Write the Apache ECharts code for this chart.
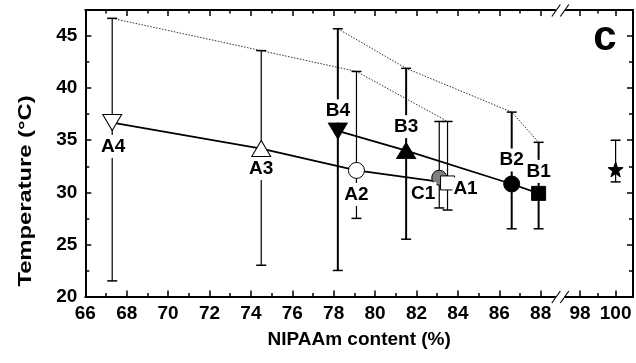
<!DOCTYPE html>
<html><head><meta charset="utf-8">
<script src="https://cdn.jsdelivr.net/npm/echarts@6/dist/echarts.min.js"></script>
<style>html,body{margin:0;padding:0;background:#fff}#c{width:636px;height:363px}</style>
</head><body><div id="c"></div>
<script>
// ---- data ----
const samples  = ['A4', 'A3', 'A2', 'C1', 'A1', 'B4', 'B3', 'B2', 'B1', 'Ref'];
const nipaam   = [67.3, 74.5, 79.1, 83.1, 83.5, 78.2, 81.5, 86.6, 87.9, 100];
const lcst     = [36.7, 34.2, 32.1, 31.4, 30.9, 35.9, 34.0, 30.8, 29.9, 32.2];
const lcstLow  = [21.5, 23.0, 27.5, 28.5, 28.3, 22.5, 25.5, 26.5, 26.5, 31.0];
const lcstHigh = [46.7, 43.6, 41.6, 36.8, 36.8, 45.7, 41.9, 37.7, 34.8, 35.0];
const seriesA = ['A4', 'A3', 'A2', 'A1'];
const seriesB = ['B4', 'B3', 'B2', 'B1'];
const xMajorTicks = [66, 68, 70, 72, 74, 76, 78, 80, 82, 84, 86, 88, 98, 100];
const xMinorTicks = [67, 69, 71, 73, 75, 77, 79, 81, 83, 85, 87, 99];
const yMajorTicks = [20, 25, 30, 35, 40, 45];
const yMinorTicks = [22.5, 27.5, 32.5, 37.5, 42.5];
const xTitle = 'NIPAAm content (%)';
const yTitle = 'Temperature (°C)';
const panelLabel = 'c';

// ---- broken x axis (88 | 98) ----
const BREAK_LO = 88, BREAK_HI = 98, BREAK_POS = 89.9, BREAK_K = 0.86;
const tx = v => v <= 90 ? v : BREAK_POS + (v - BREAK_HI) * BREAK_K;
const itx = v => v <= 89.5 ? v : BREAK_HI + (v - BREAK_POS) / BREAK_K;
const X_MIN = 66, X_MAX = 92.46, Y_MIN = 20, Y_MAX = 47.5;

// ---- styles ----
const FONT = '"Liberation Sans", Arial, Helvetica, sans-serif';
const star = 'path://M0,-10L2.35,-3.24L9.51,-3.09L3.8,1.24L5.88,8.09L0,4L-5.88,8.09L-3.8,1.24L-9.51,-3.09L-2.35,-3.24Z';
const markerStyle = {
  A4: {symbol: 'triangle', rotate: 180, size: [19, 16], fill: '#fff'},
  A3: {symbol: 'triangle', rotate: 0, size: [19, 16], fill: '#fff'},
  A2: {symbol: 'circle', rotate: 0, size: 16, fill: '#fff'},
  C1: {symbol: 'circle', rotate: 0, size: 15, fill: '#7f7f7f'},
  A1: {symbol: 'rect', rotate: 0, size: 14, fill: '#fff'},
  B4: {symbol: 'triangle', rotate: 180, size: [19, 16], fill: '#000'},
  B3: {symbol: 'triangle', rotate: 0, size: [19, 16], fill: '#000'},
  B2: {symbol: 'circle', rotate: 0, size: 16, fill: '#000'},
  B1: {symbol: 'rect', rotate: 0, size: 14, fill: '#000'},
  Ref: {symbol: star, rotate: 0, size: 15, fill: '#000'}
};
const labelOffset = {
  A4: [1, 24], A3: [0, 20], A2: [0, 24], C1: [-16, 16], A1: [18, 6],
  B4: [0, -20], B3: [0, -24], B2: [0, -24], B1: [0, -22]
};
const barWidth = name => name[0] === 'B' ? 2 : 1.2;

const idx = n => samples.indexOf(n);
const pt = n => [tx(nipaam[idx(n)]), lcst[idx(n)]];
const ptTop = n => [tx(nipaam[idx(n)]), lcstHigh[idx(n)]];

const chart = echarts.init(document.getElementById('c'), null, {renderer: 'canvas'});

const axisLineStyle = {color: '#000', width: 2};
function xAxisDef(pos, vals, len, withLabel, withLine) {
  return {
    type: 'value', position: pos, min: X_MIN, max: X_MAX,
    axisLine: {show: withLine, onZero: false, lineStyle: axisLineStyle},
    axisTick: {show: true, inside: true, length: len, customValues: vals.map(tx), lineStyle: {color: '#000', width: 1.5}},
    axisLabel: withLabel ? {show: true, customValues: vals.map(tx), margin: 8, color: '#000',
      fontFamily: FONT, fontWeight: 'bold', fontSize: 19, formatter: v => String(Math.round(itx(v)))} : {show: false},
    splitLine: {show: false}
  };
}
function yAxisDef(pos, vals, len, withLabel, withLine) {
  return {
    type: 'value', position: pos, min: Y_MIN, max: Y_MAX,
    axisLine: {show: withLine, onZero: false, lineStyle: axisLineStyle},
    axisTick: {show: true, inside: true, length: len, customValues: vals, lineStyle: {color: '#000', width: 1.5}},
    axisLabel: withLabel ? {show: true, customValues: vals, margin: 8, color: '#000',
      fontFamily: FONT, fontWeight: 'bold', fontSize: 19} : {show: false},
    splitLine: {show: false}
  };
}

const scatterData = samples.map((n, i) => {
  const s = markerStyle[n];
  const item = {
    name: n, value: [tx(nipaam[i]), lcst[i]],
    symbol: s.symbol, symbolSize: s.size, symbolRotate: s.rotate,
    itemStyle: {color: s.fill, borderColor: '#000', borderWidth: 1, opacity: 1}
  };
  if (labelOffset[n]) {
    item.label = {show: true, position: 'inside', offset: labelOffset[n], formatter: n,
      color: '#000', fontFamily: FONT, fontWeight: 'bold', fontSize: 19,
      backgroundColor: '#fff', padding: [2, 1], lineHeight: 19};
  }
  return item;
});

const errData = samples.map((n, i) => [tx(nipaam[i]), lcstLow[i], lcstHigh[i]]);

chart.setOption({
  animation: false,
  backgroundColor: '#fff',
  grid: {left: 85.3, right: 3, top: 10, bottom: 66.5, containLabel: false},
  xAxis: [
    Object.assign(xAxisDef('bottom', xMajorTicks, 6, true, true), {name: xTitle, nameLocation: 'middle', nameGap: 34,
      nameTextStyle: {color: '#000', fontFamily: FONT, fontWeight: 'bold', fontSize: 19}}),
    xAxisDef('bottom', xMinorTicks, 3.5, false, false),
    xAxisDef('top', xMajorTicks, 6, false, true),
    xAxisDef('top', xMinorTicks, 3.5, false, false)
  ],
  yAxis: [
    yAxisDef('left', yMajorTicks, 6, true, true),
    yAxisDef('left', yMinorTicks, 4, false, false),
    yAxisDef('right', yMajorTicks, 6, false, true),
    yAxisDef('right', yMinorTicks, 4, false, false)
  ],
  series: [
    {type: 'line', data: seriesA.map(ptTop), symbol: 'none', z: 1,
      lineStyle: {color: '#333', width: 1, type: [1.5, 1.5]}},
    {type: 'line', data: seriesB.map(ptTop), symbol: 'none', z: 1,
      lineStyle: {color: '#333', width: 1, type: [1.5, 1.5]}},
    {type: 'custom', z: 2, data: errData, encode: {x: 0, y: [1, 2]},
      renderItem: (params, api) => {
        const x = api.value(0);
        const top = api.coord([x, api.value(2)]);
        const bot = api.coord([x, api.value(1)]);
        const lw = barWidth(samples[params.dataIndex]);
        const st = {stroke: '#000', lineWidth: lw};
        const cap = {stroke: '#000', lineWidth: 1.5};
        return {type: 'group', children: [
          {type: 'line', shape: {x1: top[0], y1: top[1], x2: bot[0], y2: bot[1]}, style: st},
          {type: 'line', shape: {x1: top[0] - 5, y1: top[1], x2: top[0] + 5, y2: top[1]}, style: cap},
          {type: 'line', shape: {x1: bot[0] - 5, y1: bot[1], x2: bot[0] + 5, y2: bot[1]}, style: cap}
        ]};
      }},
    {type: 'line', data: seriesA.map(pt), symbol: 'none', z: 3,
      lineStyle: {color: '#000', width: 1.8}},
    {type: 'line', data: seriesB.map(pt), symbol: 'none', z: 3,
      lineStyle: {color: '#000', width: 1.8}},
    {type: 'scatter', data: scatterData, z: 5}
  ]
});

// break marks and titles
const bx = chart.convertToPixel({xAxisIndex: 0}, (BREAK_LO + tx(BREAK_HI)) / 2);
const yb = chart.convertToPixel({yAxisIndex: 0}, Y_MIN);
const yt = chart.convertToPixel({yAxisIndex: 0}, Y_MAX);
function breakMark(y) {
  return [
    {type: 'rect', shape: {x: bx - 4.5, y: y - 2, width: 9, height: 4}, style: {fill: '#fff'}, z: 100},
    {type: 'line', shape: {x1: bx - 8.5, y1: y + 6.5, x2: bx, y2: y - 5.5}, style: {stroke: '#000', lineWidth: 1.2}, z: 101},
    {type: 'line', shape: {x1: bx, y1: y + 6.5, x2: bx + 8.5, y2: y - 5.5}, style: {stroke: '#000', lineWidth: 1.2}, z: 101}
  ];
}
chart.setOption({
  graphic: [
    ...breakMark(yb), ...breakMark(yt),
    {type: 'text', x: 26, y: 191, rotation: Math.PI / 2, scaleX: 1.25, z: 100,
      style: {text: yTitle, fill: '#000', font: 'bold 19px ' + FONT, align: 'center', verticalAlign: 'middle'}},
    {type: 'text', x: 605, y: 38, z: 100,
      style: {text: panelLabel, fill: '#000', font: 'bold 42px ' + FONT, align: 'center', verticalAlign: 'middle'}}
  ]
});
</script></body></html>
